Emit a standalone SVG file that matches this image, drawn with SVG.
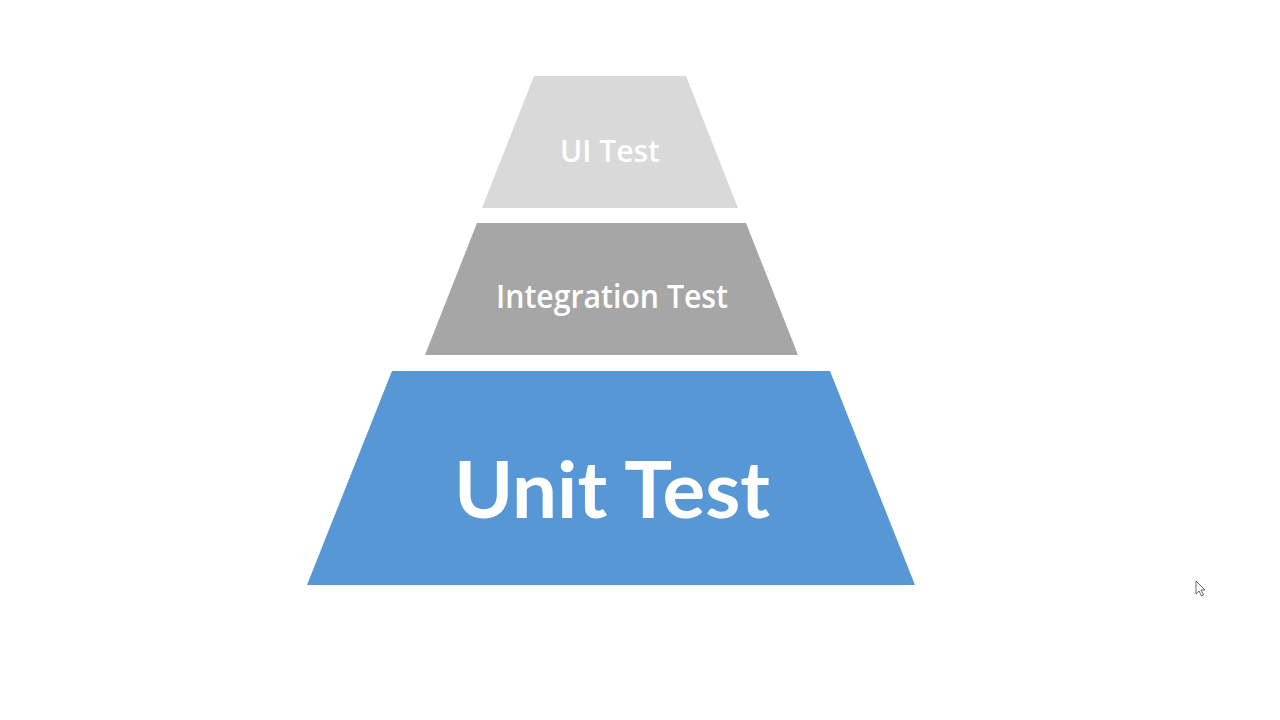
<svg xmlns="http://www.w3.org/2000/svg" width="1280" height="720" viewBox="0 0 1280 720">
  <style>
    .lbl { fill: #FFFFFF; text-anchor: middle; font-variant-ligatures: none; }
    .small { font-family: "Open Sans", "Noto Sans", "Liberation Sans", sans-serif; font-size: 31px; font-weight: 600; }
    .mid { font-family: "Open Sans", "Noto Sans", "Liberation Sans", sans-serif; font-size: 32.5px; font-weight: 600; }
    .big { font-family: Lato, "Open Sans", "Liberation Sans", sans-serif; font-size: 79px; font-weight: bold; }
  </style>
  <rect x="0" y="0" width="1280" height="720" fill="#FFFFFF"/>
  <g id="ui-test">
    <polygon points="534,76 686,76 738,208 482,208" fill="#D9D9D9"/>
    <text class="lbl small" x="610" y="162" textLength="100" lengthAdjust="spacingAndGlyphs">UI Test</text>
  </g>
  <g id="integration-test">
    <polygon points="477,223 746,223 798,355 425,355" fill="#A6A6A6"/>
    <text class="lbl mid" x="612" y="308" textLength="232" lengthAdjust="spacingAndGlyphs">Integration Test</text>
  </g>
  <g id="unit-test">
    <polygon points="392,371 830,371 915,585 307,585" fill="#5797D6"/>
    <text class="lbl big" x="612" y="518" textLength="316" lengthAdjust="spacingAndGlyphs">Unit Test</text>
  </g>
  <g id="connectors"></g>
  <polygon points="1196,581 1196,594 1199,591 1201.5,596 1203.5,595 1201,590 1205,590" fill="#FFFFFF" stroke="#444444" stroke-width="0.8" stroke-linejoin="round"/>
</svg>
